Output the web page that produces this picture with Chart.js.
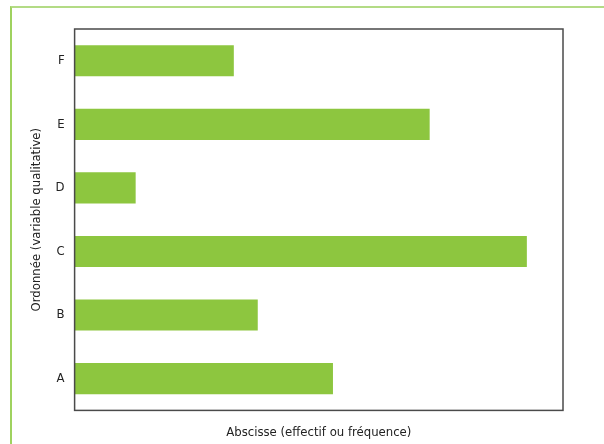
<!DOCTYPE html>
<html>
<head>
<meta charset="utf-8">
<script src="https://cdn.jsdelivr.net/npm/chart.js@4"></script>
<style>
  html, body { margin: 0; padding: 0; background: #fff; }
  #frame {
    position: absolute;
    left: 10px;
    top: 6px;
    width: 594px;
    height: 438px;
    border-top: 2px solid #b3db85;
    border-left: 2px solid #9fd25f;
  }
  #wrap { position: absolute; left: 0; top: 0; width: 604px; height: 444px; }
</style>
</head>
<body>
<div id="frame"></div>
<div id="wrap"><canvas id="chart" width="604" height="444"></canvas></div>
<script>
const categories = ["A", "B", "C", "D", "E", "F"];
const values = [52.9, 37.5, 92.6, 12.5, 72.7, 32.6];
const xTitle = "Abscisse (effectif ou fréquence)";
const yTitle = "Ordonnée (variable qualitative)";

const FONT = "'DejaVu Sans Condensed', 'DejaVu Sans', sans-serif";

// box round the whole plot area
const frameBox = {
  id: "frameBox",
  afterDraw(chart) {
    const { ctx, chartArea } = chart;
    ctx.save();
    ctx.strokeStyle = "#4a4a4a";
    ctx.lineWidth = 1.5;
    ctx.strokeRect(chartArea.left, chartArea.top, chartArea.right - chartArea.left, chartArea.bottom - chartArea.top);
    ctx.restore();
  },
};

const ctx = document.getElementById("chart").getContext("2d");
new Chart(ctx, {
  type: "bar",
  plugins: [frameBox],
  data: {
    labels: categories,
    datasets: [
      {
        data: values,
        backgroundColor: "#8dc63f",
        borderWidth: 0,
        categoryPercentage: 1,
        barPercentage: 0.49,
      },
    ],
  },
  options: {
    indexAxis: "y",
    responsive: false,
    animation: false,
    layout: {
      padding: { left: 29, top: 29, right: 41, bottom: 4 },
    },
    plugins: {
      legend: { display: false },
      tooltip: { enabled: false },
    },
    scales: {
      x: {
        min: 0,
        max: 100,
        grid: { display: false, drawTicks: false },
        border: { display: false },
        ticks: { display: false },
        title: {
          display: true,
          text: xTitle,
          color: "#222",
          font: { size: 13, family: FONT, style: "condensed" },
          padding: { top: 14, bottom: 0 },
        },
      },
      y: {
        reverse: true,
        grid: { display: false, drawTicks: false },
        border: { display: false },
        ticks: {
          color: "#222",
          padding: 10,
          font: { size: 13, family: FONT, style: "condensed" },
        },
        title: {
          display: true,
          text: yTitle,
          color: "#222",
          font: { size: 13, family: FONT, style: "condensed" },
          padding: { top: 0, bottom: 1 },
        },
      },
    },
  },
});
</script>
</body>
</html>
